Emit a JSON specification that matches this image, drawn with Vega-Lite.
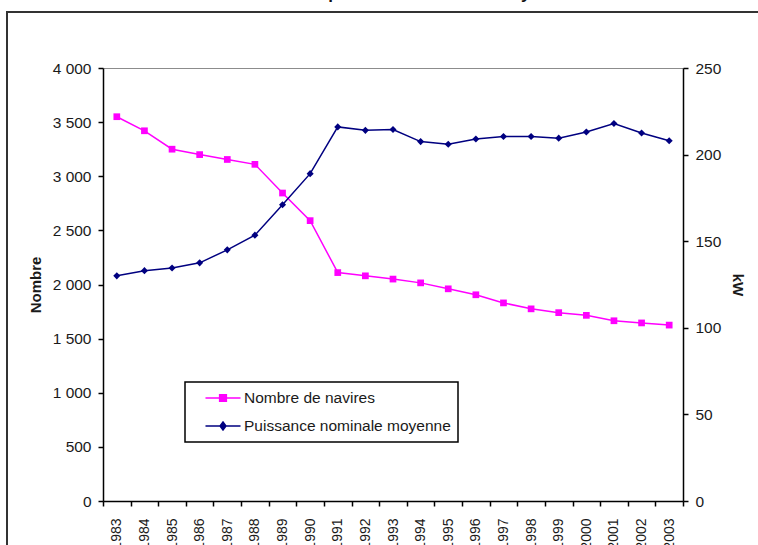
{
  "$schema": "https://vega.github.io/schema/vega-lite/v6.json",
  "width": 771,
  "height": 553,
  "autosize": {"type": "none"},
  "padding": {"left": 7, "top": 12, "right": -20, "bottom": -20},
  "background": "white",
  "config": {
    "font": "Liberation Sans",
    "view": {"stroke": "#333333", "strokeWidth": 2},
    "locale": {"number": {"decimal": ",", "thousands": " ", "grouping": [3], "currency": ["", " €"]}},
    "axis": {
      "grid": false,
      "domainColor": "#000000",
      "domainWidth": 1.5,
      "tickColor": "#000000",
      "tickWidth": 1.5,
      "tickSize": 5,
      "labelColor": "#1a1a1a",
      "labelFont": "Liberation Sans",
      "labelFontSize": 15.5,
      "titleFont": "Liberation Sans",
      "titleFontSize": 15,
      "titleFontWeight": "bold",
      "titleColor": "#1a1a1a"
    }
  },
  "title": {
    "text": "Évolution du nombre de navires et de la puissance nominale moyenne de la flotte de 1983 à 2003",
    "anchor": "middle",
    "frame": "group",
    "baseline": "alphabetic",
    "offset": 8,
    "dy": 12,
    "fontSize": 17,
    "fontWeight": "bold",
    "color": "#111111",
    "font": "Liberation Sans"
  },
  "data": {
    "values": [
      {"annee": "1983", "navires": 3550, "puissance": 130},
      {"annee": "1984", "navires": 3420, "puissance": 133},
      {"annee": "1985", "navires": 3250, "puissance": 134.5},
      {"annee": "1986", "navires": 3200, "puissance": 137.5},
      {"annee": "1987", "navires": 3155, "puissance": 145},
      {"annee": "1988", "navires": 3110, "puissance": 153.5},
      {"annee": "1989", "navires": 2845, "puissance": 171},
      {"annee": "1990", "navires": 2590, "puissance": 189},
      {"annee": "1991", "navires": 2110, "puissance": 216},
      {"annee": "1992", "navires": 2080, "puissance": 214},
      {"annee": "1993", "navires": 2050, "puissance": 214.5},
      {"annee": "1994", "navires": 2015, "puissance": 207.5},
      {"annee": "1995", "navires": 1960, "puissance": 206},
      {"annee": "1996", "navires": 1905, "puissance": 209},
      {"annee": "1997", "navires": 1830, "puissance": 210.5},
      {"annee": "1998", "navires": 1775, "puissance": 210.5},
      {"annee": "1999", "navires": 1740, "puissance": 209.5},
      {"annee": "2000", "navires": 1715, "puissance": 213},
      {"annee": "2001", "navires": 1665, "puissance": 218},
      {"annee": "2002", "navires": 1645, "puissance": 212.5},
      {"annee": "2003", "navires": 1625, "puissance": 208}
    ]
  },
  "layer": [
    {
      "mark": {"type": "line", "strokeWidth": 1.5, "point": {"shape": "square", "size": 45, "filled": true}},
      "encoding": {
        "x": {
          "field": "annee",
          "type": "ordinal",
          "scale": {"type": "band", "range": [96, 676], "paddingInner": 0, "paddingOuter": 0},
          "axis": {
            "orient": "bottom",
            "offset": -64,
            "title": null,
            "labelAngle": -90,
            "labelFontSize": 14,
            "labelPadding": 12,
            "labelOverlap": false,
            "tickBand": "extent"
          }
        },
        "y": {
          "field": "navires",
          "type": "quantitative",
          "scale": {"domain": [0, 4000], "range": [489, 56], "nice": false},
          "axis": {
            "orient": "left",
            "offset": -96,
            "values": [0, 500, 1000, 1500, 2000, 2500, 3000, 3500, 4000],
            "format": ",d",
            "title": "Nombre",
            "labelPadding": 7,
            "titlePadding": 9
          }
        },
        "color": {
          "datum": "Nombre de navires",
          "type": "nominal",
          "scale": {"domain": ["Nombre de navires", "Puissance nominale moyenne"], "range": ["#ff00ff", "#000080"]},
          "legend": {
            "orient": "none",
            "legendX": 178,
            "legendY": 370,
            "title": null,
            "strokeColor": "#000000",
            "padding": 7,
            "symbolOffset": 22,
            "labelFontSize": 15.5,
            "labelColor": "#1a1a1a",
            "labelOffset": 12,
            "labelLimit": 400,
            "labelExpr": "datum.label + '\u00a0\u00a0\u00a0\u00a0\u00a0\u00a0\u00a0\u00a0'",
            "symbolSize": 256,
            "symbolStrokeWidth": 1.5,
            "rowPadding": 10,
            "encode": {
              "legend": {"update": {"strokeWidth": {"value": 1.5}}},
              "symbols": {
                "update": {
                  "shape": {"signal": "datum.value === 'Nombre de navires' ? 'M-2.19,0L2.19,0M-0.42,-0.42L0.42,-0.42L0.42,0.42L-0.42,0.42Z' : 'M-2.19,0L2.19,0M0,-0.5L0.37,0L0,0.5L-0.37,0Z'"},
                  "fill": {"scale": "color", "field": "value"},
                  "stroke": {"scale": "color", "field": "value"},
                  "opacity": {"value": 1}
                }
              }
            }
          }
        }
      }
    },
    {
      "mark": {"type": "line", "strokeWidth": 1.5, "point": {"shape": "diamond", "size": 50, "filled": true}},
      "encoding": {
        "x": {
          "field": "annee",
          "type": "ordinal",
          "axis": {
            "orient": "top",
            "offset": -56,
            "title": null,
            "labels": false,
            "ticks": false,
            "domainColor": "#8c8c8c",
            "domainWidth": 1
          }
        },
        "y": {
          "field": "puissance",
          "type": "quantitative",
          "scale": {"domain": [0, 250], "range": [489, 56], "nice": false},
          "axis": {
            "orient": "right",
            "offset": -95,
            "values": [0, 50, 100, 150, 200, 250],
            "title": "kW",
            "labelPadding": 7,
            "titlePadding": 9
          }
        },
        "color": {"datum": "Puissance nominale moyenne", "type": "nominal"}
      }
    }
  ],
  "resolve": {"scale": {"y": "independent"}, "axis": {"x": "independent"}}
}
